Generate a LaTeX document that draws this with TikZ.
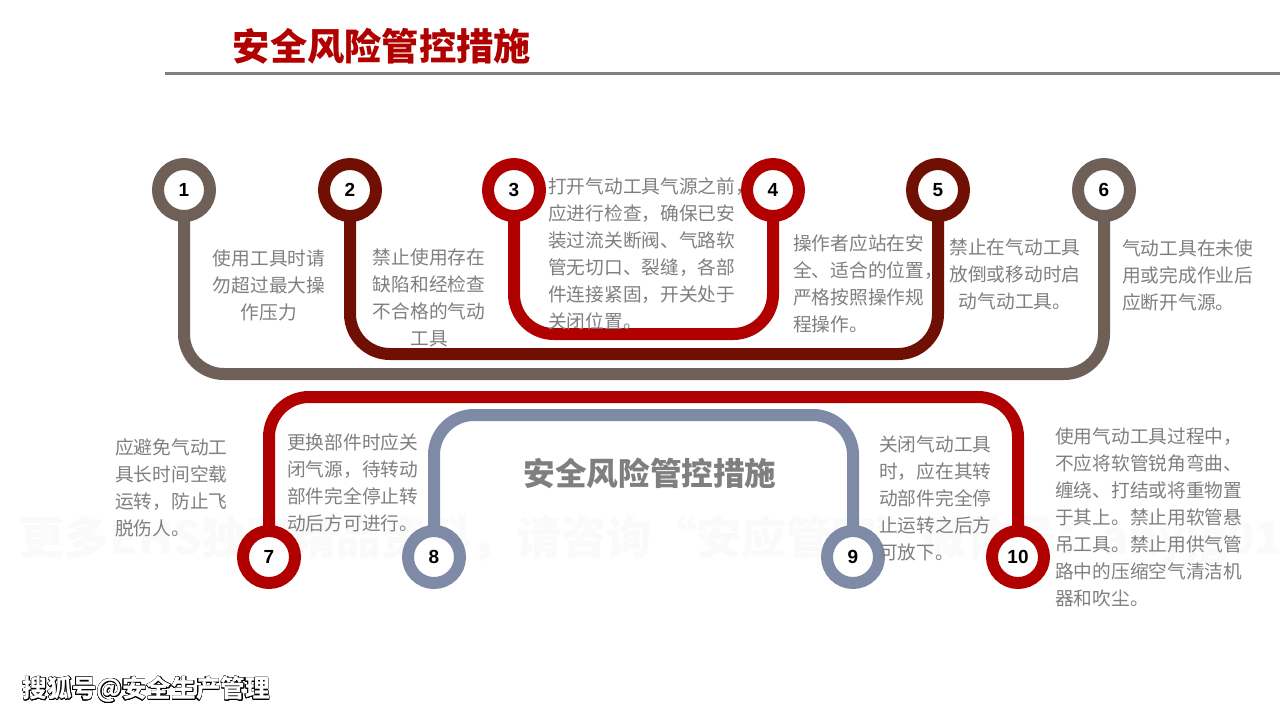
\documentclass[tikz,border=0pt]{standalone}
\usepackage{fontspec}
\setmainfont{Liberation Sans}
\newfontfamily\cjk{Noto Sans CJK SC}
\usepackage[copies]{contour}
\usetikzlibrary{positioning,backgrounds}
\definecolor{taupe}{HTML}{6E5F57}
\definecolor{maroon}{HTML}{701005}
\definecolor{crimson}{HTML}{B00000}
\definecolor{slate}{HTML}{7F8BA6}
\definecolor{txtgray}{HTML}{7F7F7F}
\contourlength{0.4pt}

\begin{document}
\begin{tikzpicture}
[x=0.25mm,y=-0.25mm,
 ring/.style={draw=#1,circle,fill=white,line width=3mm,minimum size=13mm,inner sep=0pt,
   font=\fontsize{13.5}{15}\selectfont\bfseries},
 pipe/.style={draw=#1,line width=3mm,rounded corners=10mm},
 desc/.style={text=txtgray,font=\cjk\fontsize{13.3}{19.2}\selectfont,inner sep=0pt,align=#1}]
\useasboundingbox (0,0) rectangle (1280,720);
\node[anchor=west,text=crimson,font=\cjk\bfseries\fontsize{26.5}{30}\selectfont] (head) at (228,46) {安全风险管控措施};
\draw[gray,line width=0.75mm] (165,73) -- (1280,73);
\node[ring=taupe]   (n1) at (184,190) {1};
\node[ring=maroon]  (n2) at (350,190) {2};
\node[ring=crimson] (n3) at (514,190) {3};
\node[ring=crimson] (n4) at (773,190) {4};
\node[ring=maroon]  (n5) at (938,190) {5};
\node[ring=taupe]   (n6) at (1104,190) {6};
\node[ring=crimson] (n7) at (269,557) {7};
\node[ring=slate]   (n8) at (434,557) {8};
\node[ring=slate]   (n9) at (853,557) {9};
\node[ring=crimson] (n10) at (1018,557) {10};
\node[desc=center] (t1) at (269,285) {使用工具时请\\勿超过最大操\\作压力};
\node[desc=center] (t2) at (429,298) {禁止使用存在\\缺陷和经检查\\不合格的气动\\工具};
\node[desc=left,anchor=west] (t3) at (548,254) {打开气动工具气源之前，\\应进行检查，确保已安\\装过流关断阀、气路软\\管无切口、裂缝，各部\\件连接紧固，开关处于\\关闭位置。};
\node[desc=left,anchor=west] (t4) at (793,284) {操作者应站在安\\全、适合的位置，\\严格按照操作规\\程操作。};
\node[desc=center] (t5) at (1015,274) {禁止在气动工具\\放倒或移动时启\\动气动工具。};
\node[desc=left,anchor=west] (t6) at (1122,275) {气动工具在未使\\用或完成作业后\\应断开气源。};
\node[desc=left,anchor=west] (t7) at (115,488) {应避免气动工\\具长时间空载\\运转，防止飞\\脱伤人。};
\node[desc=left,anchor=west] (t8) at (287,483) {更换部件时应关\\闭气源，待转动\\部件完全停止转\\动后方可进行。};
\node[desc=left,anchor=west] (t9) at (879,498) {关闭气动工具\\时，应在其转\\动部件完全停\\止运转之后方\\可放下。};
\node[desc=left,anchor=west] (t10) at (1055,517) {使用气动工具过程中，\\不应将软管锐角弯曲、\\缠绕、打结或将重物置\\于其上。禁止用软管悬\\吊工具。禁止用供气管\\路中的压缩空气清洁机\\器和吹尘。};
\node[text=txtgray,font=\cjk\bfseries\fontsize{22.5}{26}\selectfont] (mid) at (650,473) {安全风险管控措施};
\node[anchor=west,text=white,font=\cjk\bfseries\fontsize{17.5}{20}\selectfont] (sohu) at (18,690) {\contour{black}{搜狐号@安全生产管理}};
\begin{scope}[on background layer]
\fill[white] (0,0) rectangle (1280,720);
\node[anchor=west,text=black!2,font=\cjk\bfseries\fontsize{32}{36}\selectfont] (mark) at (15,540) {更多EHS独家精品资料，请咨询“安应管家”微信号：anyjg01};
\draw[pipe=taupe] (n1.center) -- (n1.center |- 0,374) -- (n6.center |- 0,374) -- (n6.center);
\draw[pipe=maroon] (n2.center) -- (n2.center |- 0,354) -- (n5.center |- 0,354) -- (n5.center);
\draw[pipe=crimson] (n3.center) -- (n3.center |- 0,334) -- (n4.center |- 0,334) -- (n4.center);
\draw[pipe=crimson] (n7.center) -- (n7.center |- 0,397) -- (n10.center |- 0,397) -- (n10.center);
\draw[pipe=slate] (n8.center) -- (n8.center |- 0,415) -- (n9.center |- 0,415) -- (n9.center);
\end{scope}
\end{tikzpicture}
\end{document}
